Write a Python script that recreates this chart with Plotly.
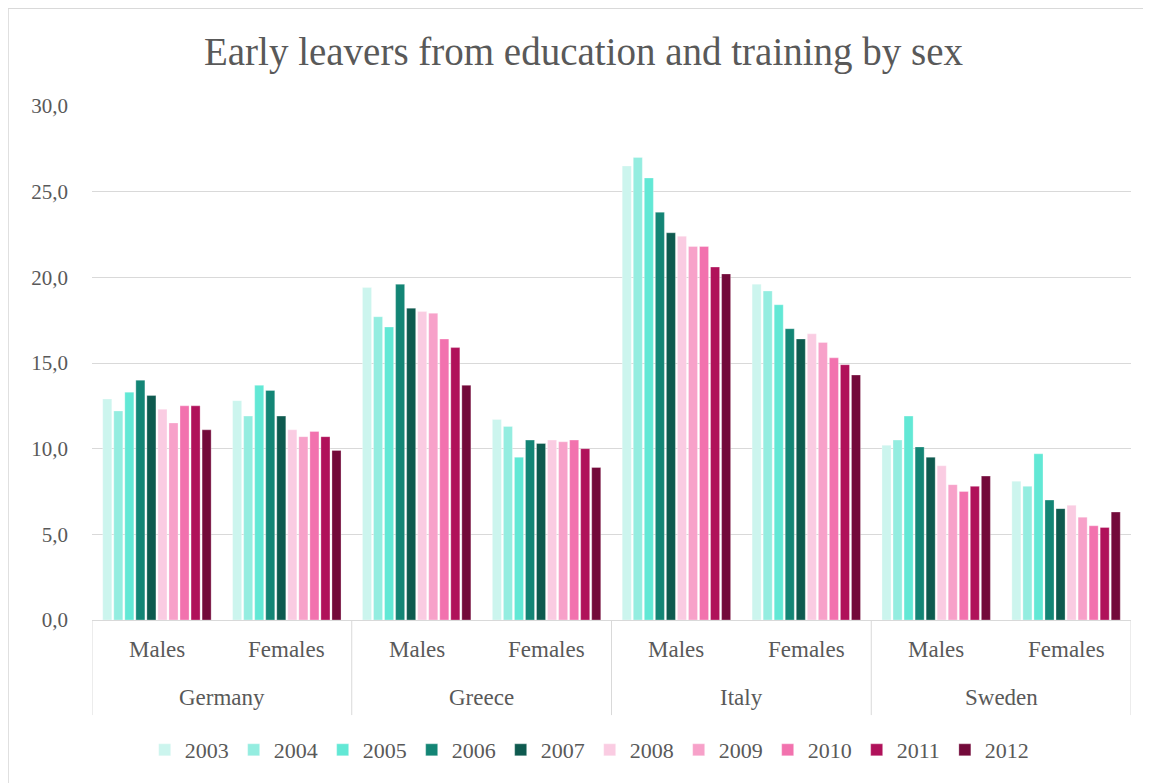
import plotly.graph_objects as go

countries = ["Germany", "Greece", "Italy", "Sweden"]
sexes = ["Males", "Females"]
years = ["2003", "2004", "2005", "2006", "2007", "2008", "2009", "2010", "2011", "2012"]
colors = ["#CCF5EE", "#94EDE0", "#62E8D5", "#138575", "#0E5A4F",
          "#FACCE2", "#F7A1C9", "#F272AE", "#B0115A", "#730A3A"]

# values per year, order: Germany M, Germany F, Greece M, Greece F, Italy M, Italy F, Sweden M, Sweden F
v2003 = [12.9, 12.8, 19.4, 11.7, 26.5, 19.6, 10.2, 8.1]
v2004 = [12.2, 11.9, 17.7, 11.3, 27.0, 19.2, 10.5, 7.8]
v2005 = [13.3, 13.7, 17.1, 9.5, 25.8, 18.4, 11.9, 9.7]
v2006 = [14.0, 13.4, 19.6, 10.5, 23.8, 17.0, 10.1, 7.0]
v2007 = [13.1, 11.9, 18.2, 10.3, 22.6, 16.4, 9.5, 6.5]
v2008 = [12.3, 11.1, 18.0, 10.5, 22.4, 16.7, 9.0, 6.7]
v2009 = [11.5, 10.7, 17.9, 10.4, 21.8, 16.2, 7.9, 6.0]
v2010 = [12.5, 11.0, 16.4, 10.5, 21.8, 15.3, 7.5, 5.5]
v2011 = [12.5, 10.7, 15.9, 10.0, 20.6, 14.9, 7.8, 5.4]
v2012 = [11.1, 9.9, 13.7, 8.9, 20.2, 14.3, 8.4, 6.3]
values = [v2003, v2004, v2005, v2006, v2007, v2008, v2009, v2010, v2011, v2012]

# category positions (country x sex)
n_sex = len(sexes)
xpos = list(range(len(countries) * n_sex))
inner_labels = [s for _ in countries for s in sexes]

FONT = "Liberation Serif"
GRAY = "#595959"
LINE = "#D9D9D9"

fig = go.Figure()
for y, col, vals in zip(years, colors, values):
    fig.add_trace(go.Bar(
        x=xpos, y=vals, name=y,
        marker=dict(color=col, line=dict(color="rgba(255,255,255,0.6)", width=0.5)),
    ))

annotations = []
for xi, lab in zip(xpos, inner_labels):
    annotations.append(dict(x=xi, y=-0.058, xref="x", yref="paper", text=lab,
                            showarrow=False, yanchor="middle",
                            font=dict(size=23, color=GRAY, family=FONT)))
for ci, c in enumerate(countries):
    annotations.append(dict(x=ci * n_sex + (n_sex - 1) / 2, y=-0.15, xref="x", yref="paper",
                            text=c, showarrow=False, yanchor="middle",
                            font=dict(size=23, color=GRAY, family=FONT)))

shapes = []
for ci in range(len(countries) + 1):
    xb = ci * n_sex - 0.5
    shapes.append(dict(type="line", xref="x", yref="paper", x0=xb, x1=xb, y0=0, y1=-0.185,
                       line=dict(color=LINE, width=1)))
# outer chart border (left and top edges visible)
shapes.append(dict(type="rect", xref="paper", yref="paper", x0=-0.0808, x1=1.2, y0=-0.5, y1=1.19,
                   line=dict(color=LINE, width=1.5), layer="below"))

fig.update_layout(
    width=1151, height=783,
    barmode="group", bargap=0.15, bargroupgap=0.18,
    separators=",.",
    paper_bgcolor="white", plot_bgcolor="white",
    font=dict(family=FONT, color=GRAY, size=18),
    title=dict(text="Early leavers from education and training by sex",
               x=0.5, xanchor="center", xref="container", y=0.945, yanchor="middle",
               font=dict(size=39, color=GRAY, family=FONT)),
    margin=dict(l=84, r=28, t=98, b=171),
    legend=dict(orientation="h", x=0.479, xanchor="center", y=-0.253, yanchor="middle",
                font=dict(size=22, color=GRAY, family=FONT), itemwidth=30,
                tracegroupgap=0),
    yaxis=dict(range=[0, 30], dtick=5, tickformat=".1f", showgrid=True,
               gridcolor=LINE, gridwidth=1, zeroline=False, showline=False,
               tickfont=dict(size=21, color=GRAY, family=FONT), ticks="",
               ticklabelstandoff=23, automargin=False),
    xaxis=dict(range=[-0.5, len(xpos) - 0.5], showline=True, linecolor=LINE, linewidth=1,
               showticklabels=False, showgrid=False, zeroline=False, ticks="",
               automargin=False),
    annotations=annotations,
    shapes=shapes,
)

fig.write_html("out.html")
